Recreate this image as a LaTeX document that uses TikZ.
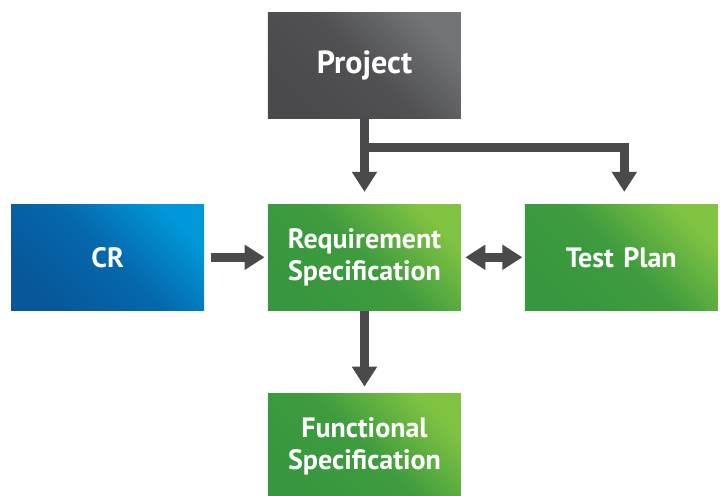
\documentclass[tikz,border=0pt]{standalone}
\usepackage{fontspec}
\setmainfont{PT Sans}
\usetikzlibrary{positioning,arrows.meta}

\definecolor{darkgrey}{HTML}{4A4A4C}
\definecolor{lightgrey}{HTML}{737478}
\definecolor{darkblue}{HTML}{07579A}
\definecolor{lightblue}{HTML}{0098DA}
\definecolor{darkgreen}{HTML}{37973E}
\definecolor{lightgreen}{HTML}{80C342}
\definecolor{arrowgrey}{HTML}{4A4A4C}

\tikzstyle{box} = [rectangle, minimum width=96.5pt, minimum height=53pt, text centered, text width=92pt, text=white, font=\bfseries\fontsize{14}{16}\selectfont, inner sep=0pt]
\tikzstyle{project} = [box, left color=darkgrey, right color=lightgrey, middle color=darkgrey!85!lightgrey, shading angle=135, font=\bfseries\fontsize{16}{18}\selectfont]
\tikzstyle{change} = [box, left color=darkblue, right color=lightblue, middle color=darkblue!75!lightblue, shading angle=135]
\tikzstyle{spec} = [box, left color=darkgreen, right color=lightgreen, middle color=darkgreen!90!lightgreen, shading angle=135]
\tikzstyle{arrow} = [draw=arrowgrey, line width=4.5pt, -{Triangle[width=12pt,length=10pt]}, arrowgrey]
\tikzstyle{dblarrow} = [draw=arrowgrey, line width=4.5pt, {Triangle[width=12pt,length=10pt]}-{Triangle[width=12pt,length=10pt]}, arrowgrey]

\begin{document}
\begin{tikzpicture}[node distance=42pt and 31.5pt]
        \useasboundingbox (0,0) rectangle (360pt,-248pt);
        \node (proj) [project] at (182.25pt,-32.75pt) {Project};
        \node (req) [spec, below=42.5pt of proj] {Requirement\\Specification};
        \node (cr) [change, left=of req] {CR};
        \node (tp) [spec, right=of req] {Test Plan};
        \node (func) [spec, below=41pt of req] {Functional\\Specification};

        \coordinate (split) at ([yshift=-14.5pt]proj.south);
        \draw [arrow, shorten >=6pt] (proj) -- (req);
        \draw [arrow, shorten >=6pt] (split) -| ([xshift=1.5pt]tp.north);
        \draw [arrow, shorten <=3pt, shorten >=1.5pt] (cr) -- (req);
        \draw [dblarrow, shorten <=2pt, shorten >=1pt] (req) -- (tp);
        \draw [arrow, shorten >=3pt] (req) -- (func);
    \end{tikzpicture}
\end{document}
